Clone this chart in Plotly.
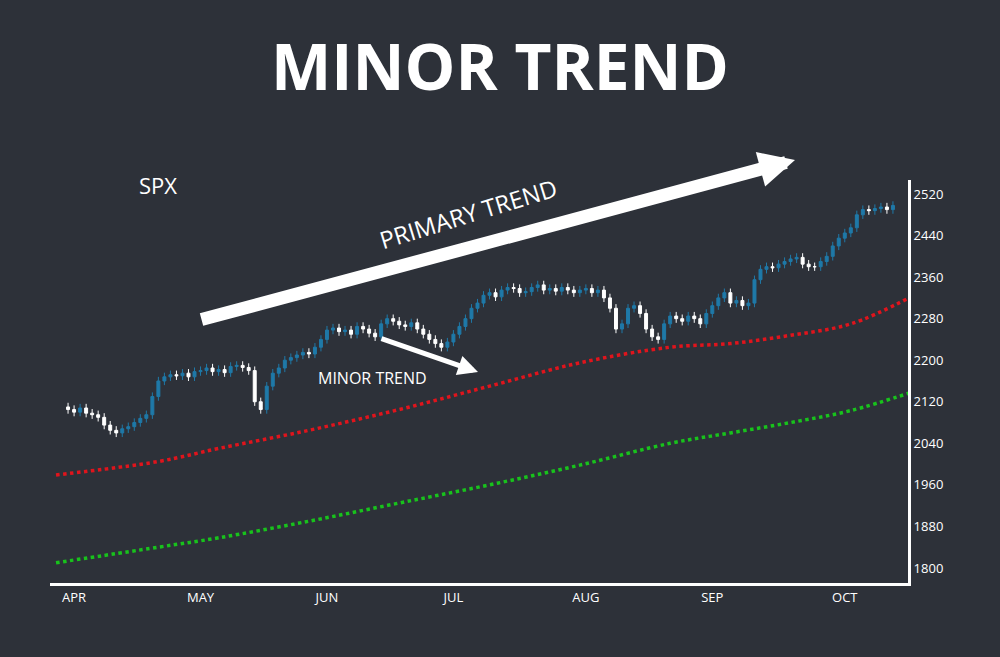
import plotly.graph_objects as go

# daily closes, Apr -> Oct
closes = [2105, 2100, 2108, 2098, 2095, 2090, 2075, 2065, 2060, 2068, 2072, 2080, 2088, 2095, 2130, 2160, 2168, 2172, 2170, 2175, 2168, 2178,
          2180, 2185, 2178, 2182, 2176, 2188, 2190, 2186, 2180, 2120, 2105, 2150, 2175, 2185, 2200, 2205, 2210, 2215, 2212, 2225, 2240,
          2258, 2262, 2255, 2258, 2250, 2265, 2260, 2252, 2245, 2270, 2280, 2275, 2268, 2265, 2272, 2260, 2250, 2240, 2232, 2225,
          2235, 2250, 2265, 2280, 2300, 2310, 2325, 2330, 2322, 2335, 2340, 2338, 2330, 2332, 2340, 2345, 2335, 2338, 2333, 2340, 2335, 2330,
          2335, 2338, 2330, 2335, 2320, 2300, 2260, 2270, 2300, 2305, 2290, 2260, 2245, 2240, 2270, 2285, 2280, 2275, 2285, 2280, 2270,
          2290, 2305, 2320, 2330, 2310, 2315, 2305, 2310, 2355, 2375, 2380, 2378, 2385, 2390, 2395, 2398, 2385, 2380, 2380, 2390, 2400, 2420,
          2435, 2445, 2455, 2480, 2490, 2488, 2492, 2495, 2490, 2498]
first_open = 2110

ma_days = [-2, 15, 25, 40, 55, 70, 85, 100, 110, 120, 130, 140]
ma50 = [1979, 2005, 2030, 2065, 2105, 2150, 2195, 2225, 2232, 2248, 2270, 2322]
ma200 = [1810, 1840, 1858, 1890, 1925, 1960, 1998, 2040, 2060, 2080, 2103, 2138]

month_pos = [1, 22, 43, 64, 86, 107, 129]
month_lbl = ["APR", "MAY", "JUN", "JUL", "AUG", "SEP", "OCT"]
yticks = [1800, 1880, 1960, 2040, 2120, 2200, 2280, 2360, 2440, 2520]

opens = [first_open] + closes[:-1]
highs = [max(o, c) + 8 for o, c in zip(opens, closes)]
lows = [min(o, c) - 8 for o, c in zip(opens, closes)]
x = list(range(len(closes)))

bg = "#2d3139"
fig = go.Figure()
fig.add_trace(go.Candlestick(
    x=x, open=opens, high=highs, low=lows, close=closes,
    increasing=dict(line=dict(color="#1f79a8", width=1), fillcolor="#1f79a8"),
    decreasing=dict(line=dict(color="#ffffff", width=1), fillcolor="#ffffff"),
    whiskerwidth=0, showlegend=False))
fig.add_trace(go.Scatter(x=ma_days, y=ma50, mode="lines", line=dict(color="#e0141c", width=3.5, dash="dot", shape="spline"), showlegend=False))
fig.add_trace(go.Scatter(x=ma_days, y=ma200, mode="lines", line=dict(color="#18c21c", width=3.5, dash="dot", shape="spline"), showlegend=False))

def px(xp, yp):
    return (xp - 50) / 858, (583 - yp) / 403

def label(xp, yp, text, size, angle=0):
    tx, ty = px(xp, yp)
    return dict(x=tx, y=ty, xref="paper", yref="paper", text=text, showarrow=False, textangle=angle,
                xanchor="center", yanchor="middle", font=dict(size=size, color="white", family="Open Sans"))

anns = [
    label(500, 65, "<b>MINOR TREND</b>", 64),
    label(158, 185, "SPX", 22),
    label(468, 213, "PRIMARY TREND", 24, -17),
    label(372, 378, "MINOR TREND", 16),
]
tx, ty = px(795, 160)
anns.append(dict(x=tx, y=ty, xref="paper", yref="paper", text="", showarrow=True, axref="pixel", ayref="pixel",
                 ax=-595, ay=160, arrowhead=2, arrowsize=0.55, arrowwidth=13, arrowcolor="white"))
tx, ty = px(478, 372)
anns.append(dict(x=tx, y=ty, xref="paper", yref="paper", text="", showarrow=True, axref="pixel", ayref="pixel",
                 ax=-98, ay=-34, arrowhead=2, arrowsize=0.8, arrowwidth=5, arrowcolor="white"))

fig.update_layout(
    width=1000, height=657, paper_bgcolor=bg, plot_bgcolor=bg,
    margin=dict(l=50, r=92, t=180, b=74, autoexpand=False),
    font=dict(family="Open Sans", color="white"),
    annotations=anns,
    xaxis=dict(range=[-3, 139.5], rangeslider=dict(visible=False), showgrid=False, zeroline=False,
               tickvals=month_pos, ticktext=month_lbl, tickfont=dict(size=13, color="white"),
               showline=True, linecolor="white", linewidth=3, ticks=""),
    yaxis=dict(side="right", range=[1771, 2547], showgrid=False, zeroline=False,
               tickvals=yticks, tickfont=dict(size=13, color="white"),
               showline=True, linecolor="white", linewidth=3, ticks="", ticklen=0),
)
fig.write_html("out.html", config={"displayModeBar": False},
               post_script="document.body.style.margin='0';document.body.style.overflow='hidden';")
